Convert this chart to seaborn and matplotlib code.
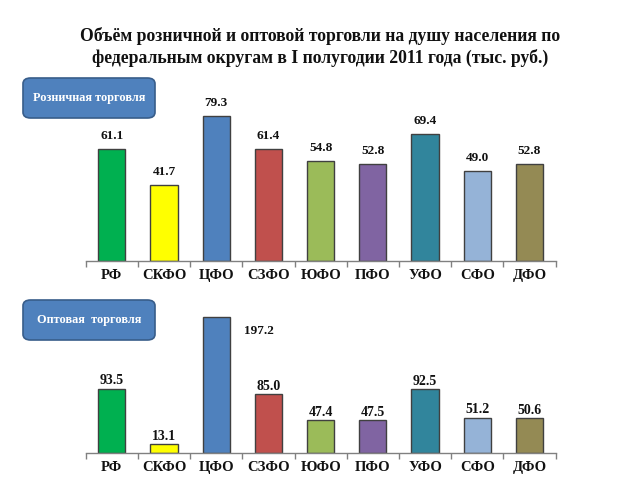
import matplotlib
matplotlib.use("Agg")
import matplotlib.pyplot as plt
from matplotlib.patches import FancyBboxPatch
from matplotlib.ticker import FixedLocator
import seaborn as sns
import pandas as pd

# Данные
okruga = ["РФ", "СКФО", "ЦФО", "СЗФО", "ЮФО", "ПФО", "УФО", "СФО", "ДФО"]
roznica = [61.1, 41.7, 79.3, 61.4, 54.8, 52.8, 69.4, 49.0, 52.8]
opt = [93.5, 13.1, 197.2, 85.0, 47.4, 47.5, 92.5, 51.2, 50.6]
colors = ["#00B050", "#FFFF00", "#4F81BD", "#C0504D", "#9BBB59",
          "#8064A2", "#31859C", "#95B3D7", "#948A54"]

sns.set_style("white")
plt.rcParams["font.family"] = ["Liberation Serif", "DejaVu Serif"]
plt.rcParams["text.color"] = "#111111"
plt.rcParams["xtick.color"] = "#808080"
plt.rcParams["xtick.labelcolor"] = "#111111"

fig = plt.figure(figsize=(6.4, 4.8), dpi=100)
ax1 = fig.add_axes([0.134, 0.456, 0.734, 0.336])
ax2 = fig.add_axes([0.134, 0.056, 0.734, 0.319])


def draw(ax, values, ymax):
    df = pd.DataFrame({"okrug": okruga, "value": values})
    sns.barplot(data=df, x="okrug", y="value", hue="okrug", palette=colors,
                saturation=1, legend=False, width=0.52, edgecolor="#404040",
                linewidth=1.0, ax=ax)
    ax.set_xlim(-0.5, len(okruga) - 0.5)
    ax.set_ylim(0, ymax)
    ax.set_xlabel("")
    ax.set_ylabel("")
    ax.set_yticks([])
    for side in ["top", "right", "left"]:
        ax.spines[side].set_visible(False)
    ax.spines["bottom"].set_color("#808080")
    ax.spines["bottom"].set_linewidth(1.0)
    ax.tick_params(axis="x", which="major", length=0, pad=6, labelsize=10.5)
    for lbl in ax.get_xticklabels():
        lbl.set_fontweight("bold")
    ax.xaxis.set_minor_locator(FixedLocator([i - 0.5 for i in range(len(okruga) + 1)]))
    ax.tick_params(axis="x", which="minor", bottom=True, length=4,
                   color="#808080", width=1.0, direction="out")
    return df


draw(ax1, roznica, 88)
for i, v in enumerate(roznica):
    ax1.annotate(f"{v:.1f}", (i, v), xytext=(0, 5), textcoords="offset points",
                 ha="center", va="bottom", fontsize=9.5, fontweight="bold")

draw(ax2, opt, 222)
for i, v in enumerate(opt):
    if v == max(opt):
        ax2.annotate(f"{v:.1f}", (i, v), xytext=(20, -10), textcoords="offset points",
                     ha="left", va="center", fontsize=9.5, fontweight="bold")
    else:
        ax2.annotate(f"{v:.1f}", (i, v), xytext=(0, 1), textcoords="offset points",
                     ha="center", va="bottom", fontsize=10, fontweight="bold")

fig.text(0.5, 0.902, "Объём розничной и оптовой торговли на душу населения по\n"
         "федеральным округам в I полугодии 2011 года (тыс. руб.)",
         ha="center", va="center", fontsize=12.7, fontweight="bold", linespacing=1.25)

# Подписи-плашки
for (x0, y0, text) in [(23, 362, "Розничная торговля"), (23, 140, "Оптовая  торговля")]:
    box = FancyBboxPatch((x0 / 640, y0 / 480), 132 / 640, 40 / 480,
                         boxstyle="round,pad=0,rounding_size=0.012",
                         transform=fig.transFigure, facecolor="#4F81BD",
                         edgecolor="#385D8A", linewidth=1.2)
    fig.patches.append(box)
    fig.text((x0 + 66) / 640, (y0 + 20) / 480, text, ha="center", va="center",
             color="white", fontsize=8.8, fontweight="bold")

fig.savefig("out.png", dpi=100)
